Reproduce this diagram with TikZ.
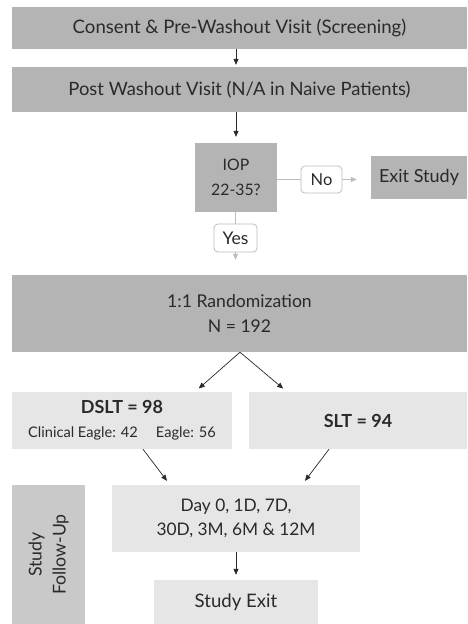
\documentclass[tikz,border=0pt]{standalone}
\usepackage{fontspec}
\setmainfont{Lato}
\usetikzlibrary{arrows.meta,calc}
\definecolor{dkgray}{HTML}{B4B4B4}
\definecolor{mdgray}{HTML}{C9C9C9}
\definecolor{ltgray}{HTML}{E6E6E6}
\definecolor{txt}{HTML}{2A2A2A}
\definecolor{linegray}{HTML}{BDBDBD}
\tikzset{
  x=1pt,y=1pt,
  box/.style={draw=none,inner sep=0pt,align=center,text=txt,font=\fontsize{18}{24}\selectfont},
  dark/.style={box,fill=dkgray},
  light/.style={box,fill=ltgray},
  tag/.style={box,fill=white,draw=linegray,rounded corners=4pt,line width=0.8pt},
  arr/.style={draw=txt,line width=0.7pt,-{Triangle[length=6pt,width=5pt]}},
  garr/.style={draw=linegray,line width=0.8pt,-{Triangle[length=6pt,width=5pt]}},
  gline/.style={draw=linegray,line width=0.8pt},
}
\begin{document}
\begin{tikzpicture}
\useasboundingbox[fill=white] (0,0) rectangle (467,-624);
\node[dark,minimum width=455,minimum height=42,font=\fontsize{18.6}{24}\selectfont] (b1) at (239.5,-28) {Consent \& Pre-Washout Visit (Screening)};
\node[dark,minimum width=455,minimum height=45,font=\fontsize{18.4}{24}\selectfont] (b2) at (239.5,-89.5) {Post Washout Visit (N/A in Naive Patients)};
\node[dark,minimum width=82,minimum height=69,font=\fontsize{15.8}{25}\selectfont] (iop) at (236,-177.5) {IOP\\22-35?};
\node[tag,minimum width=41,minimum height=27,font=\fontsize{16.5}{20}\selectfont] (no) at (321.5,-179.5) {No};
\node[dark,minimum width=96,minimum height=43] (exit) at (419,-177.5) {Exit Study};
\node[tag,minimum width=43,minimum height=28,font=\fontsize{17.5}{20}\selectfont] (yes) at (235.5,-238) {Yes};
\node[dark,minimum width=455,minimum height=77,font=\fontsize{17.6}{25}\selectfont] (rand) at (239.5,-313.5) {1:1 Randomization\\N = 192};
\node[light,minimum width=220,minimum height=57] (dslt) at (122,-420.5) {\textbf{\fontsize{18}{22}\selectfont DSLT = 98}\\[0pt]{\fontsize{14.6}{17}\selectfont Clinical Eagle: 42\hspace{18pt}Eagle: 56}};
\node[light,minimum width=218,minimum height=57] (slt) at (358,-420.5) {\textbf{\fontsize{18}{22}\selectfont SLT = 94}};
\node[box,fill=mdgray,minimum width=73,minimum height=139] (fu) at (48.5,-554.5) {};
\node[box,rotate=90,font=\fontsize{17.7}{24}\selectfont] (fut) at (fu.center) {Study\\Follow-Up};
\node[light,minimum width=248,minimum height=67,font=\fontsize{17.3}{24}\selectfont] (day) at (236,-518.5) {Day 0, 1D, 7D,\\30D, 3M, 6M \& 12M};
\node[light,minimum width=164,minimum height=44,font=\fontsize{18.6}{24}\selectfont] (sexit) at (236,-602) {Study Exit};
\draw[arr,shorten >=2pt] (b1.south -| iop.north) -- (b2.north -| iop.north);
\draw[arr,shorten >=6pt] (b2.south -| iop.north) -- (iop.north);
\draw[gline] (iop.east |- no.west) -- (no.west);
\draw[garr,shorten >=14pt] (no.east) -- (exit.west |- no.east);
\draw[gline] (iop.south -| yes.north) -- (yes.north);
\draw[garr,shorten >=15pt] (yes.south) -- (rand.north -| yes.south);
\draw[arr,shorten >=5pt] ($(rand.south)+(0.5,0)$) -- ($(dslt.north)+(73,0)$);
\draw[arr,shorten >=5pt] ($(rand.south)+(0.5,0)$) -- ($(slt.north)+(-71,0)$);
\draw[arr,shorten >=5pt] ($(dslt.south)+(21,0)$) -- ($(day.north)+(-66,0)$);
\draw[arr,shorten >=5pt] ($(slt.south)+(-29,0)$) -- ($(day.north)+(66,0)$);
\draw[arr,shorten >=5pt] (day.south) -- (sexit.north);
\end{tikzpicture}
\end{document}
